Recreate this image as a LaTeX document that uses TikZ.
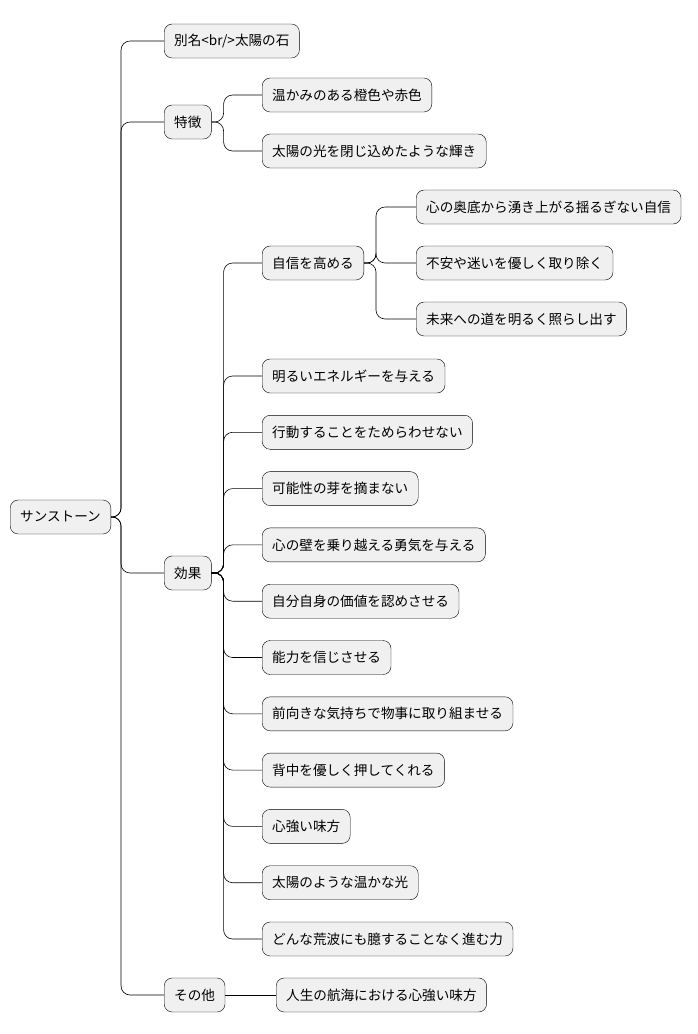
\documentclass[tikz,border=0pt]{standalone}
\usepackage{fontspec}
\setmainfont{Noto Sans CJK JP}
\tikzset{
  topic/.style={draw=black,fill=gray!12,rounded corners=8pt,minimum height=34pt,
    inner xsep=10pt,anchor=west,font=\fontsize{13.6}{16}\selectfont},
  branch/.style={rounded corners=9pt,line width=0.6pt}
}
\begin{document}
\begin{tikzpicture}[x=1pt,y=-1pt]
\useasboundingbox (0,0) rectangle (698,1034);

% root and first level
\node[topic] (root) at (10,517) {サンストーン};
\node[topic] (alias) at (164,41) {別名<br/>太陽の石};
\node[topic] (feat) at (164,122) {特徴};
\node[topic] (eff) at (164,573) {効果};
\node[topic] (other) at (164,995) {その他};

% features
\node[topic] (f1) at (262,95) {温かみのある橙色や赤色};
\node[topic] (f2) at (262,151) {太陽の光を閉じ込めたような輝き};

% effects
\node[topic] (conf) at (262,263) {自信を高める};
\node[topic] (c1) at (416,207) {心の奥底から湧き上がる揺るぎない自信};
\node[topic] (c2) at (416,263) {不安や迷いを優しく取り除く};
\node[topic] (c3) at (416,319) {未来への道を明るく照らし出す};
\foreach \t [count=\i] in {明るいエネルギーを与える,行動することをためらわせない,
    可能性の芽を摘まない,心の壁を乗り越える勇気を与える,自分自身の価値を認めさせる,
    能力を信じさせる,前向きな気持ちで物事に取り組ませる,背中を優しく押してくれる,
    心強い味方,太陽のような温かな光,どんな荒波にも臆することなく進む力}
  \node[topic] (e\i) at (262,{376+56.3*(\i-1)}) {\t};

% others
\node[topic] (o1) at (276,995) {人生の航海における心強い味方};

% connectors
\foreach \c in {alias,feat,eff,other}
  \draw[branch] (root.east) -- ++(10,0) |- (\c.west);
\foreach \c in {f1,f2}
  \draw[branch] (feat.east) -- ++(12,0) |- (\c.west);
\foreach \c in {conf,e1,e2,e3,e4,e5,e6,e7,e8,e9,e10,e11}
  \draw[branch] (eff.east) -- ++(12,0) |- (\c.west);
\foreach \c in {c1,c2,c3}
  \draw[branch] (conf.east) -- ++(12,0) |- (\c.west);
\draw[branch] (other.east) -- (o1.west);

\end{tikzpicture}
\end{document}
